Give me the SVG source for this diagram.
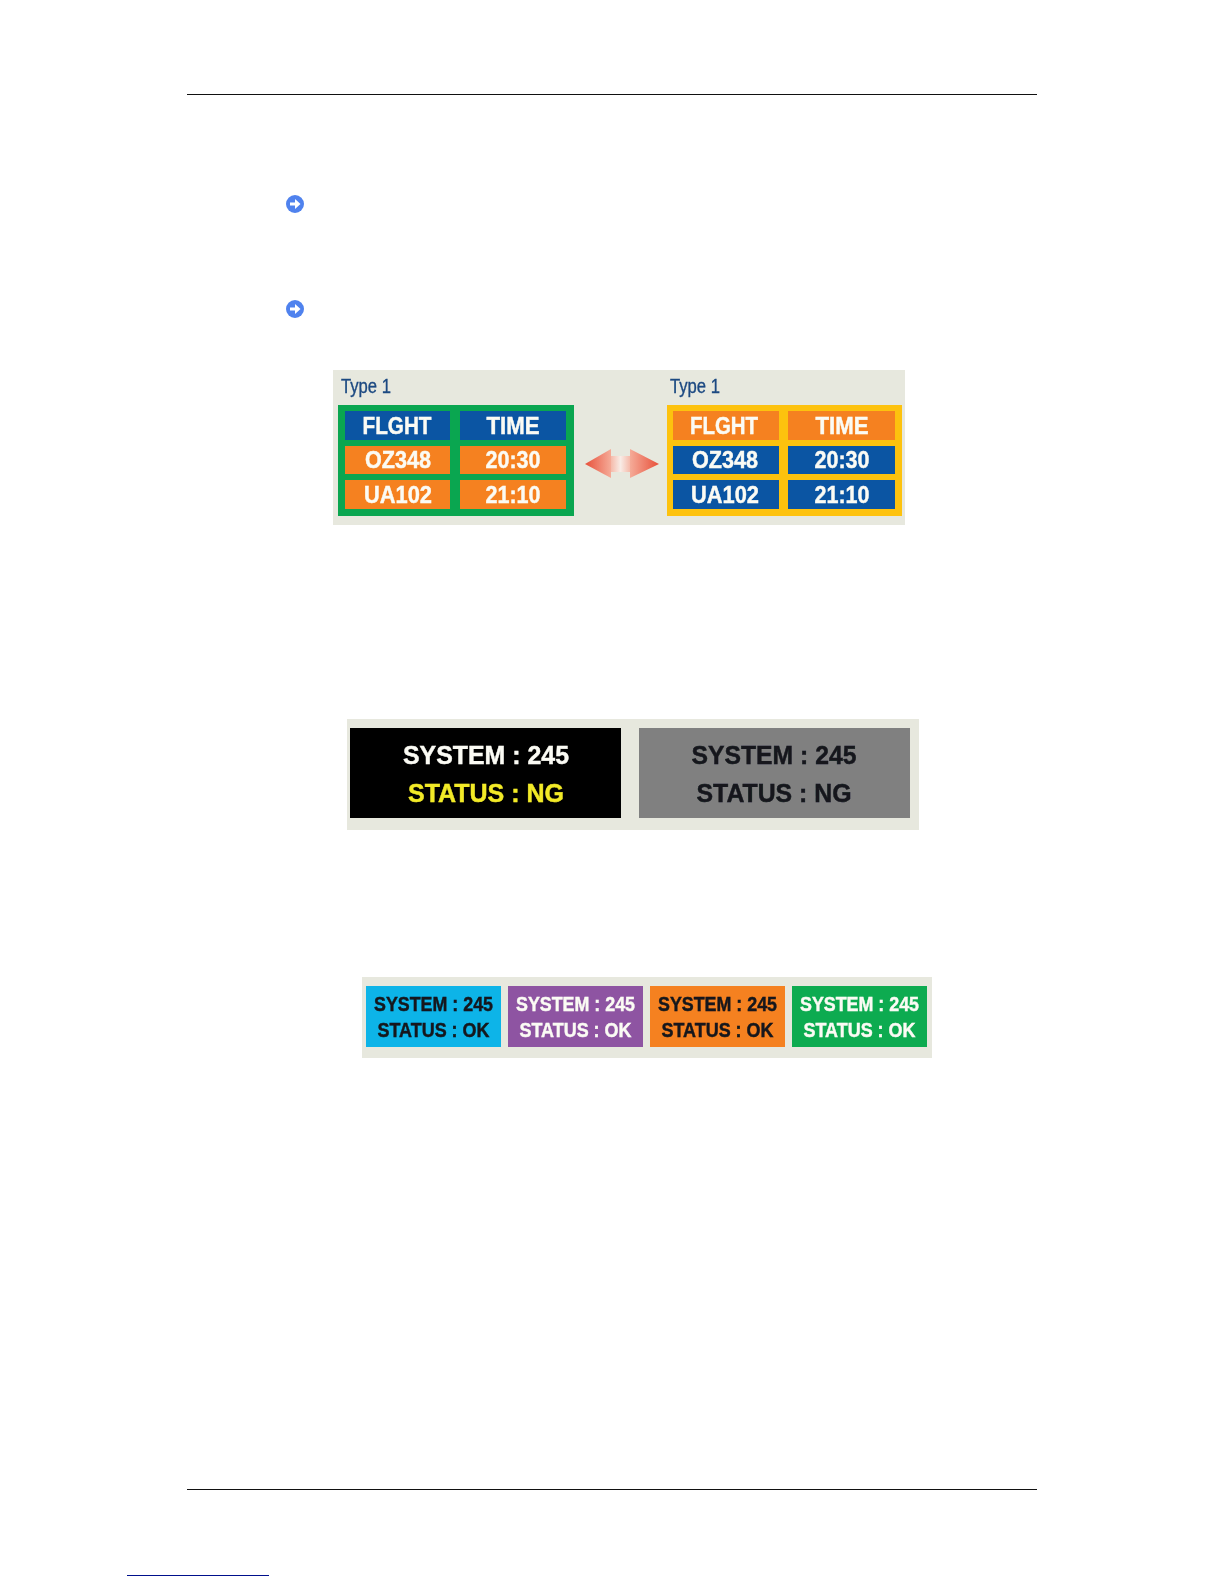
<svg xmlns="http://www.w3.org/2000/svg" width="1224" height="1584" viewBox="0 0 1224 1584">
<style>
text{font-family:"Liberation Sans",Arial,sans-serif;font-weight:700;text-anchor:middle;filter:url(#soft);stroke-width:.45px}
.w{fill:#fbfbf4;stroke:#fbfbf4}.k{fill:#14161c;stroke:#14161c}.y{fill:#f2ea28;stroke:#f2ea28}
.t{font-size:24px}.s{font-size:26px}.m{font-size:21px}
.type{font-size:20px;font-weight:400;fill:#1d4a82;text-anchor:start;stroke:#1d4a82;stroke-width:.35px}
.panel{fill:#e7e8de}.blue{fill:#0b55a3}.or{fill:#f58120}
</style>
<defs>
<filter id="soft" x="-5%" y="-20%" width="110%" height="140%"><feGaussianBlur stdDeviation="0.4"/></filter>
<linearGradient id="al" x1="0" x2="1"><stop offset="0" stop-color="#e8503a"/><stop offset="1" stop-color="#f5ab98"/></linearGradient>
<linearGradient id="ar" x1="1" x2="0"><stop offset="0" stop-color="#e8503a"/><stop offset="1" stop-color="#f5ab98"/></linearGradient>
<linearGradient id="am"><stop offset="0" stop-color="#f5b5a4"/><stop offset=".5" stop-color="#f8ece6"/><stop offset="1" stop-color="#f5b5a4"/></linearGradient>
<g id="arrowIcon"><circle r="9" fill="#4f82ee"/><path d="M-5-1.6H0V-5L5.500 0 0 5V1.600H-5Z" fill="#fff"/></g>
</defs>
<rect width="1224" height="1584" fill="#fff"/>
<g id="page-rules">
<rect x="187" y="94" width="850" height="1" fill="#111"/>
<rect x="187" y="1489" width="850" height="1" fill="#111"/>
<rect x="127" y="1575" width="142" height="1" fill="#00108c"/>
</g>
<g id="bullets"><use href="#arrowIcon" x="295" y="204" filter="url(#soft)"/><use href="#arrowIcon" x="295" y="309" filter="url(#soft)"/></g>
<g id="panel-type1">
<rect class="panel" x="333" y="370" width="572" height="155"/>
<text class="type" x="341" y="393" textLength="50" lengthAdjust="spacingAndGlyphs">Type 1</text>
<text class="type" x="670" y="393" textLength="50" lengthAdjust="spacingAndGlyphs">Type 1</text>
<g id="table-left">
<rect x="338" y="405" width="236" height="111" fill="#0aa650"/>
<rect class="blue" x="345" y="411" width="105" height="29"/><rect class="blue" x="460" y="411" width="106" height="29"/>
<rect class="or" x="345" y="446" width="105" height="28"/><rect class="or" x="460" y="446" width="106" height="28"/>
<rect class="or" x="345" y="480" width="105" height="29"/><rect class="or" x="460" y="480" width="106" height="29"/>
<text class="t w" x="397" y="434" textLength="69" lengthAdjust="spacingAndGlyphs">FLGHT</text>
<text class="t w" x="513" y="434" textLength="53" lengthAdjust="spacingAndGlyphs">TIME</text>
<text class="t w" x="398" y="468" textLength="66" lengthAdjust="spacingAndGlyphs">OZ348</text>
<text class="t w" x="513" y="468" textLength="55" lengthAdjust="spacingAndGlyphs">20:30</text>
<text class="t w" x="398" y="503" textLength="68" lengthAdjust="spacingAndGlyphs">UA102</text>
<text class="t w" x="513" y="503" textLength="55" lengthAdjust="spacingAndGlyphs">21:10</text>
</g>
<g id="double-arrow" filter="url(#soft)">
<rect x="610" y="456" width="21" height="16" fill="url(#am)"/>
<path d="M585 464 611 449V478Z" fill="url(#al)"/>
<path d="M659 464 630 449V478Z" fill="url(#ar)"/>
</g>
<g id="table-right">
<rect x="667" y="405" width="235" height="111" fill="#fdc20e"/>
<rect class="or" x="673" y="411" width="106" height="29"/><rect class="or" x="788" y="411" width="107" height="29"/>
<rect class="blue" x="673" y="446" width="106" height="28"/><rect class="blue" x="788" y="446" width="107" height="28"/>
<rect class="blue" x="673" y="480" width="106" height="29"/><rect class="blue" x="788" y="480" width="107" height="29"/>
<text class="t w" x="724" y="434" textLength="68" lengthAdjust="spacingAndGlyphs">FLGHT</text>
<text class="t w" x="842" y="434" textLength="53" lengthAdjust="spacingAndGlyphs">TIME</text>
<text class="t w" x="725" y="468" textLength="66" lengthAdjust="spacingAndGlyphs">OZ348</text>
<text class="t w" x="842" y="468" textLength="55" lengthAdjust="spacingAndGlyphs">20:30</text>
<text class="t w" x="725" y="503" textLength="68" lengthAdjust="spacingAndGlyphs">UA102</text>
<text class="t w" x="842" y="503" textLength="55" lengthAdjust="spacingAndGlyphs">21:10</text>
</g>
</g>
<g id="panel-status-ng">
<rect class="panel" x="347" y="719" width="572" height="111"/>
<rect x="350" y="728" width="271" height="90" fill="#000"/>
<rect x="639" y="728" width="271" height="90" fill="#808080"/>
<text class="s w" x="486" y="764" textLength="166" lengthAdjust="spacingAndGlyphs">SYSTEM : 245</text>
<text class="s y" x="486" y="802" textLength="156" lengthAdjust="spacingAndGlyphs">STATUS : NG</text>
<text class="s k" x="774" y="764" textLength="165" lengthAdjust="spacingAndGlyphs">SYSTEM : 245</text>
<text class="s k" x="774" y="802" textLength="155" lengthAdjust="spacingAndGlyphs">STATUS : NG</text>
</g>
<g id="panel-status-ok">
<rect class="panel" x="362" y="977" width="570" height="81"/>
<g id="ok-cyan"><rect x="366" y="986" width="135" height="61" fill="#0db4e8"/>
<text class="m k" x="433.500" y="1011" textLength="119" lengthAdjust="spacingAndGlyphs">SYSTEM : 245</text>
<text class="m k" x="433.500" y="1037" textLength="112" lengthAdjust="spacingAndGlyphs">STATUS : OK</text></g>
<g id="ok-purple"><rect x="508" y="986" width="135" height="61" fill="#8e54a2"/>
<text class="m w" x="575.500" y="1011" textLength="119" lengthAdjust="spacingAndGlyphs">SYSTEM : 245</text>
<text class="m w" x="575.500" y="1037" textLength="112" lengthAdjust="spacingAndGlyphs">STATUS : OK</text></g>
<g id="ok-orange"><rect x="650" y="986" width="135" height="61" fill="#f58120"/>
<text class="m k" x="717.500" y="1011" textLength="119" lengthAdjust="spacingAndGlyphs">SYSTEM : 245</text>
<text class="m k" x="717.500" y="1037" textLength="112" lengthAdjust="spacingAndGlyphs">STATUS : OK</text></g>
<g id="ok-green"><rect x="792" y="986" width="135" height="61" fill="#0dab50"/>
<text class="m w" x="859.500" y="1011" textLength="119" lengthAdjust="spacingAndGlyphs">SYSTEM : 245</text>
<text class="m w" x="859.500" y="1037" textLength="112" lengthAdjust="spacingAndGlyphs">STATUS : OK</text></g>
</g>
</svg>
